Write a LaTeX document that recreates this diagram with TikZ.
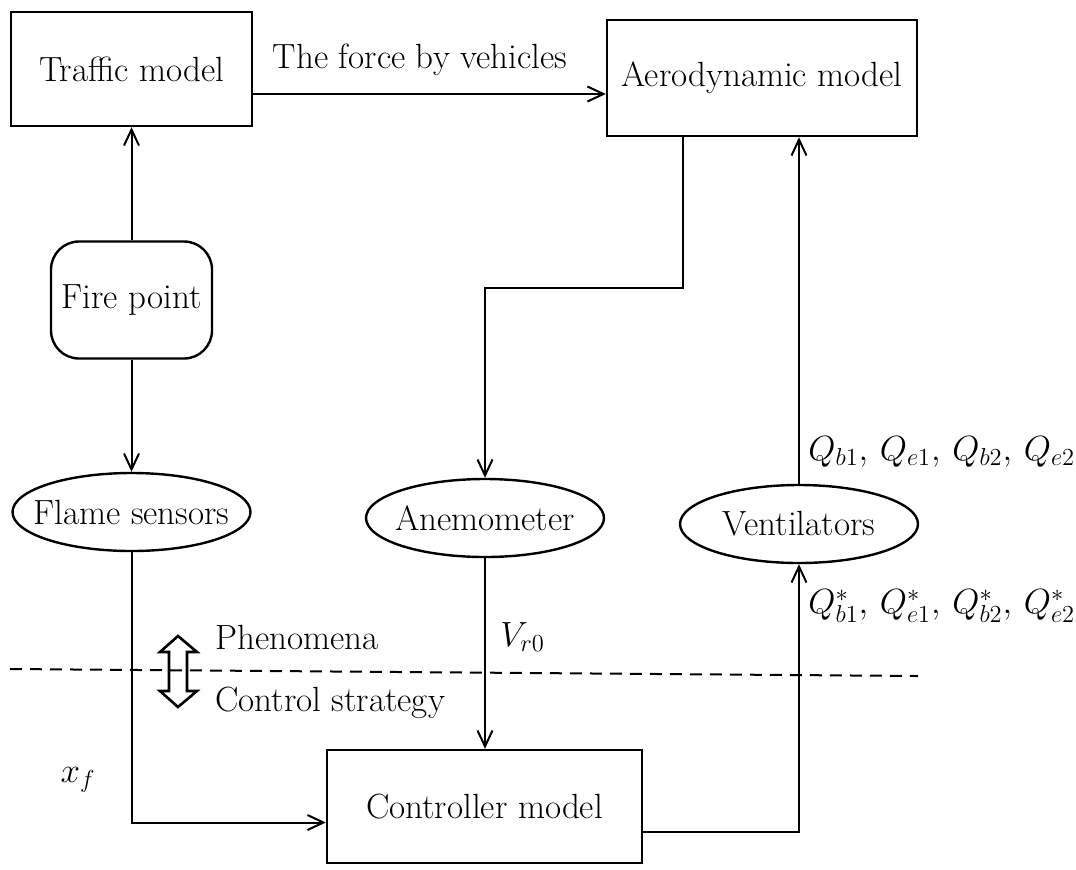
\documentclass[tikz,border=0pt]{standalone}
\usepackage{fix-cm}
\usetikzlibrary{arrows.meta,shapes.geometric,calc}
\begin{document}
\begin{tikzpicture}[x=0.5pt,y=-0.5pt,
  font=\fontsize{17.5}{21}\selectfont,
  box/.style={draw,line width=1.2pt,rectangle,inner sep=0pt},
  oval/.style={draw,line width=1.2pt,ellipse,inner sep=0pt,minimum width=119pt,minimum height=39pt},
  arr/.style={line width=1pt,-{Straight Barb[length=8pt,width=7.5pt]}},
  lbl/.style={inner sep=0pt}]
\useasboundingbox (0,0) rectangle (1076,869);

% nodes
\node[box,minimum width=120.5pt,minimum height=57pt] (traffic) at (131.5,69) {Traffic model};
\node[box,minimum width=155pt,minimum height=58pt] (aero) at (762,78) {Aerodynamic model};
\node[box,rounded corners=14pt,minimum width=80.5pt,minimum height=58.5pt] (fire) at (131.5,300) {Fire point};
\node[oval,label=center:{Flame sensors}] (flame) at (131.5,512) {};
\node[oval,label=center:{Anemometer}] (anem) at (485,518) {};
\node[oval,label=center:{Ventilators}] (vent) at (799,524) {};
\node[box,minimum width=157.5pt,minimum height=56.5pt] (ctrl) at (484.5,806.5) {Controller model};

% helper coordinates
\coordinate (fy) at (0,94);
\coordinate (bend) at (683,288);

% connectors
\draw[arr] (traffic.east |- fy) -- (aero.west |- fy);
\draw[arr] (fire.north) -- (traffic.south);
\draw[arr] (fire.south) -- (flame.north);
\draw[arr] (flame.south) |- ([yshift=-8pt]ctrl.west);
\draw[arr] (aero.south -| bend) -- (bend) -| (anem.north);
\draw[arr] (anem.south) -- (anem.south |- ctrl.north);
\draw[arr] (vent.north) -- (vent.north |- aero.south);
\draw[arr] ([yshift=-12.75pt]ctrl.east) -| (vent.south);

% labels
\node[lbl] (force) at (420,60) {The force by vehicles};
\node[lbl,anchor=west] (vr) at (500,637) {$V_{r0}$};
\node[lbl,anchor=west] (qlab) at (808,452) {$Q_{b1},\,Q_{e1},\,Q_{b2},\,Q_{e2}$};
\node[lbl,anchor=west] (qstar) at (808,606) {$Q^*_{b1},\,Q^*_{e1},\,Q^*_{b2},\,Q^*_{e2}$};
\node[lbl] (xf) at (78,780) {$x_f$};
\node[lbl,anchor=west] (phen) at (215,637) {Phenomena};
\node[lbl,anchor=west] (cstr) at (215,703) {Control strategy};

% separator
\draw[line width=1pt,dash pattern=on 6pt off 4pt] (10,669) -- (918,676);

% double arrow
\draw[line width=1.3pt,line join=miter]
  (178,636) -- (197,652) -- (187,652) -- (187,691) -- (197,691) -- (178,707)
  -- (160,691) -- (169,691) -- (169,652) -- (160,652) -- cycle;
\end{tikzpicture}
\end{document}
